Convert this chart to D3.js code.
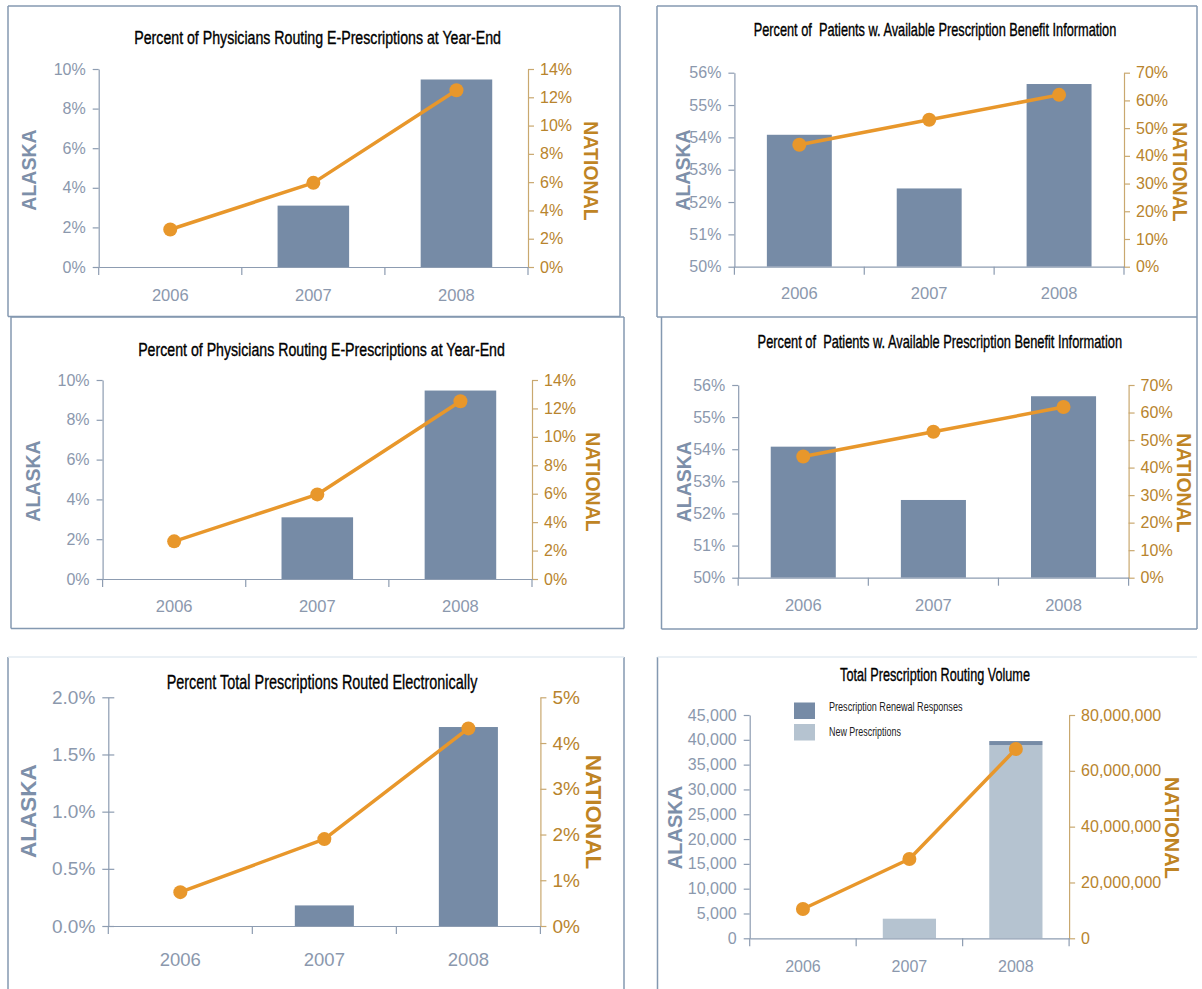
<!DOCTYPE html>
<html>
<head>
<meta charset="utf-8">
<script src="https://cdn.jsdelivr.net/npm/d3@7"></script>
<style>
  html, body { margin: 0; padding: 0; background: #ffffff; }
  svg { display: block; }
  text { font-family: "Liberation Sans", Arial, sans-serif; }
  .title { white-space: pre; }
</style>
</head>
<body>
<svg id="chart" width="1202" height="989"></svg>
<script>
// ---- data ----
const years = ["2006", "2007", "2008"];

// Percent of physicians routing e-prescriptions at year-end
const physiciansAlaska   = [0, 3.1, 9.47];
const physiciansNational = [2.65, 5.95, 12.5];
const physiciansLeftTicks  = [0, 2, 4, 6, 8, 10];
const physiciansRightTicks = [0, 2, 4, 6, 8, 10, 12, 14];

// Percent of patients with available prescription benefit information
const benefitAlaska   = [54.08, 52.42, 55.65];
const benefitNational = [44, 53, 62];
const benefitLeftTicks  = [50, 51, 52, 53, 54, 55, 56];
const benefitRightTicks = [0, 10, 20, 30, 40, 50, 60, 70];

// Percent of total prescriptions routed electronically
const routedAlaska   = [0, 0.18, 1.74];
const routedNational = [0.74, 1.9, 4.32];
const routedLeftTicks  = [0, 0.5, 1.0, 1.5, 2.0];
const routedRightTicks = [0, 1, 2, 3, 4, 5];

// Total prescription routing volume
const volumeNewPrescriptions = [0, 3950, 38950];
const volumeRenewalResponses = [0, 0, 800];
const volumeNational = [10500000, 28400000, 67800000];
const volumeLeftTicks  = [0, 5000, 10000, 15000, 20000, 25000, 30000, 35000, 40000, 45000];
const volumeRightTicks = [0, 20000000, 40000000, 60000000, 80000000];
const volumeLegend = ["Prescription Renewal Responses", "New Prescriptions"];

// ---- styling ----
const BAR = "#768ba6";
const BAR_LIGHT = "#b5c3d0";
const LINE = "#e8972b";
const LEFT_AXIS = "#8d9cb1";
const RIGHT_AXIS = "#c9a86f";
const LEFT_TEXT = "#8b98ad";
const RIGHT_TEXT = "#b8842d";
const ALASKA_TEXT = "#7d8fa9";
const NATIONAL_TEXT = "#bf8424";
const FRAME = "#8499b1";
const NARROW = "'Liberation Sans Narrow', 'Arial Narrow', 'Liberation Sans', sans-serif";

const pctInt = d => d + "%";
const pctOne = d => d3.format(".1f")(d) + "%";
const comma = d3.format(",");

const svg = d3.select("#chart");
svg.append("rect").attr("width", 1202).attr("height", 989).attr("fill", "#fff");

// Squeeze a text horizontally so it spans the given width, centred or left-aligned at (x, y).
function condensed(sel, x, y, width, anchor) {
  const natural = sel.node().getComputedTextLength();
  const k = natural > 0 ? width / natural : 1;
  sel.attr("x", 0).attr("y", 0)
    .attr("text-anchor", anchor)
    .attr("transform", `translate(${x},${y}) scale(${k},1)`);
  return sel;
}

// panel frames
const frames = [
  { x1: 8, y1: 6, x2: 620, y2: 316.5, sides: "tlrb" },
  { x1: 657, y1: 6, x2: 1197, y2: 317, sides: "tlrb" },
  { x1: 11, y1: 317, x2: 624, y2: 628.5, sides: "tlrb" },
  { x1: 661.5, y1: 317, x2: 1197, y2: 629, sides: "lrb" },
  { x1: 8, y1: 657, x2: 624, y2: 995, sides: "lr" },
  { x1: 657.5, y1: 657, x2: 1197, y2: 995, sides: "l" }
];
frames.forEach(f => {
  const g = svg.append("g").attr("fill", "none").attr("stroke", FRAME).attr("stroke-width", 1.5);
  if (f.sides.includes("t")) g.append("line").attr("x1", f.x1).attr("x2", f.x2).attr("y1", f.y1).attr("y2", f.y1);
  if (f.sides.includes("b")) g.append("line").attr("x1", f.x1).attr("x2", f.x2).attr("y1", f.y2).attr("y2", f.y2);
  if (f.sides.includes("l")) g.append("line").attr("x1", f.x1).attr("x2", f.x1).attr("y1", f.y1).attr("y2", f.y2);
  if (f.sides.includes("r")) g.append("line").attr("x1", f.x2).attr("x2", f.x2).attr("y1", f.y1).attr("y2", f.y2);
});
// faint top edges of the lower pair
svg.append("line").attr("x1", 8).attr("x2", 624).attr("y1", 657).attr("y2", 657).attr("stroke", "#e3ebf2").attr("stroke-width", 1.5);
svg.append("line").attr("x1", 657.5).attr("x2", 1197).attr("y1", 657).attr("y2", 657).attr("stroke", "#e3ebf2").attr("stroke-width", 1.5);

const panels = [
  {
    title: "Percent of Physicians Routing E-Prescriptions at Year-End",
    L: 98.7, R: 528, T: 69, B: 267, titleX: 317.6, titleY: 38, titleW: 367, titleSize: 17.5,
    alaskaX: 28.7, alaskaY: 170, nationalX: 591, nationalY: 171, catY: 295,
    labelSize: 16, catSize: 16.5, sideSize: 19.5, barFrac: 0.5, crossTicks: false,
    leftDomain: [0, 10], rightDomain: [0, 14], leftTicks: physiciansLeftTicks, rightTicks: physiciansRightTicks,
    leftFmt: pctInt, rightFmt: pctInt, bars: [physiciansAlaska], line: physiciansNational
  },
  {
    title: "Percent of  Patients w. Available Prescription Benefit Information",
    L: 734.4, R: 1124, T: 72.7, B: 266.7, titleX: 935, titleY: 30, titleW: 363, titleSize: 17.5,
    alaskaX: 682.5, alaskaY: 170, nationalX: 1179.7, nationalY: 172, catY: 293,
    labelSize: 16, catSize: 16.5, sideSize: 19.5, barFrac: 0.5, crossTicks: false,
    leftDomain: [50, 56], rightDomain: [0, 70], leftTicks: benefitLeftTicks, rightTicks: benefitRightTicks,
    leftFmt: pctInt, rightFmt: pctInt, bars: [benefitAlaska], line: benefitNational
  },
  {
    title: "Percent of Physicians Routing E-Prescriptions at Year-End",
    L: 102.6, R: 532, T: 380, B: 579, titleX: 321.5, titleY: 350, titleW: 367, titleSize: 17.5,
    alaskaX: 32.5, alaskaY: 481, nationalX: 593, nationalY: 482, catY: 606.7,
    labelSize: 16, catSize: 16.5, sideSize: 19.5, barFrac: 0.5, crossTicks: false,
    leftDomain: [0, 10], rightDomain: [0, 14], leftTicks: physiciansLeftTicks, rightTicks: physiciansRightTicks,
    leftFmt: pctInt, rightFmt: pctInt, bars: [physiciansAlaska], line: physiciansNational
  },
  {
    title: "Percent of  Patients w. Available Prescription Benefit Information",
    L: 738.2, R: 1128.6, T: 385, B: 577.7, titleX: 939.8, titleY: 341.7, titleW: 364.7, titleSize: 17.5,
    alaskaX: 683.7, alaskaY: 481.7, nationalX: 1183.5, nationalY: 483, catY: 605,
    labelSize: 16, catSize: 16.5, sideSize: 19.5, barFrac: 0.5, crossTicks: false,
    leftDomain: [50, 56], rightDomain: [0, 70], leftTicks: benefitLeftTicks, rightTicks: benefitRightTicks,
    leftFmt: pctInt, rightFmt: pctInt, bars: [benefitAlaska], line: benefitNational
  },
  {
    title: "Percent Total Prescriptions Routed Electronically",
    L: 108.3, R: 540.4, T: 697.3, B: 926, titleX: 322, titleY: 681.7, titleW: 311, titleSize: 21,
    alaskaX: 28.7, alaskaY: 811, nationalX: 593, nationalY: 812, catY: 960,
    labelSize: 19, catSize: 18.5, sideSize: 22.5, barFrac: 0.41, crossTicks: true,
    leftDomain: [0, 2], rightDomain: [0, 5], leftTicks: routedLeftTicks, rightTicks: routedRightTicks,
    leftFmt: pctOne, rightFmt: pctInt, bars: [routedAlaska], line: routedNational
  },
  {
    title: "Total Prescription Routing Volume",
    L: 749.7, R: 1069.1, T: 715, B: 938.3, titleX: 935, titleY: 675, titleW: 190, titleSize: 18,
    alaskaX: 674.9, alaskaY: 827.5, nationalX: 1172, nationalY: 828, catY: 966.7,
    labelSize: 16, catSize: 16, sideSize: 20, barFrac: 0.5, crossTicks: false,
    leftDomain: [0, 45000], rightDomain: [0, 80000000], leftTicks: volumeLeftTicks, rightTicks: volumeRightTicks,
    leftFmt: comma, rightFmt: comma,
    bars: [volumeNewPrescriptions, volumeRenewalResponses], barColors: [BAR_LIGHT, BAR],
    line: volumeNational, legend: volumeLegend
  }
];

panels.forEach(p => {
  const g = svg.append("g");
  const x = d3.scaleBand().domain(years).range([p.L, p.R]);
  const yL = d3.scaleLinear().domain(p.leftDomain).range([p.B, p.T]);
  const yR = d3.scaleLinear().domain(p.rightDomain).range([p.B, p.T]);

  // title (condensed type)
  const title = g.append("text")
    .attr("class", "title")
    .attr("xml:space", "preserve")
    .attr("dominant-baseline", "central")
    .attr("font-family", NARROW)
    .attr("font-size", p.titleSize).attr("fill", "#000")
    .attr("stroke", "#000").attr("stroke-width", 0.35)
    .text(p.title);
  condensed(title, p.titleX, p.titleY, p.titleW, "middle");

  // bars (stacked when several series are given)
  const colors = p.barColors || [BAR];
  const bw = x.bandwidth() * p.barFrac;
  const stacked = years.map((yr, i) => {
    let acc = 0;
    return p.bars.map((s, k) => {
      const seg = { year: yr, y0: acc, y1: acc + s[i], color: colors[k] };
      acc += s[i];
      return seg;
    });
  }).flat().filter(d => d.y1 > d.y0);
  g.append("g").selectAll("rect").data(stacked).join("rect")
    .attr("x", d => x(d.year) + (x.bandwidth() - bw) / 2)
    .attr("width", bw)
    .attr("y", d => yL(Math.max(d.y1, p.leftDomain[0])))
    .attr("height", d => yL(Math.max(d.y0, p.leftDomain[0])) - yL(Math.max(d.y1, p.leftDomain[0])))
    .attr("fill", d => d.color);

  // left axis
  const leftAxis = d3.axisLeft(yL).tickValues(p.leftTicks).tickFormat(p.leftFmt)
    .tickSizeInner(6).tickSizeOuter(0).tickPadding(7);
  const la = g.append("g").attr("transform", `translate(${p.L},0)`).call(leftAxis);
  la.select(".domain").attr("stroke", LEFT_AXIS).attr("stroke-width", 1.2);
  la.selectAll(".tick line").attr("stroke", LEFT_AXIS).attr("stroke-width", 1.2)
    .attr("x2", -6).attr("x1", p.crossTicks ? 6 : 0);
  la.selectAll(".tick text").attr("fill", LEFT_TEXT).attr("font-size", p.labelSize)
    .attr("font-family", "'Liberation Sans', Arial, sans-serif");

  // right axis
  const rightAxis = d3.axisRight(yR).tickValues(p.rightTicks).tickFormat(p.rightFmt)
    .tickSizeInner(6).tickSizeOuter(0).tickPadding(6);
  const ra = g.append("g").attr("transform", `translate(${p.R},0)`).call(rightAxis);
  ra.select(".domain").attr("stroke", RIGHT_AXIS).attr("stroke-width", 1.2);
  ra.selectAll(".tick line").attr("stroke", RIGHT_AXIS).attr("stroke-width", 1.2);
  ra.selectAll(".tick text").attr("fill", RIGHT_TEXT).attr("font-size", p.labelSize)
    .attr("font-family", "'Liberation Sans', Arial, sans-serif");

  // category axis: baseline, boundary ticks, year labels
  const bottomAxis = d3.axisBottom(x).tickSize(0).tickPadding(0);
  const ba = g.append("g").attr("transform", `translate(0,${p.B})`).call(bottomAxis);
  ba.select(".domain").attr("stroke", LEFT_AXIS).attr("stroke-width", 1.2);
  ba.selectAll(".tick text")
    .attr("y", p.catY - p.B).attr("dy", "0.35em")
    .attr("fill", LEFT_TEXT).attr("font-size", p.catSize)
    .attr("font-family", "'Liberation Sans', Arial, sans-serif");
  const bounds = years.map(d => x(d)).concat([x.range()[1]]);
  g.append("g").selectAll("line").data(bounds).join("line")
    .attr("x1", d => d).attr("x2", d => d)
    .attr("y1", p.B).attr("y2", p.B + 8)
    .attr("stroke", LEFT_AXIS).attr("stroke-width", 1.2);

  // national line
  const cx = d => x(d) + x.bandwidth() / 2;
  const pts = years.map((yr, i) => [cx(yr), yR(p.line[i])]);
  g.append("path").datum(pts)
    .attr("d", d3.line())
    .attr("fill", "none").attr("stroke", LINE).attr("stroke-width", 3.5)
    .attr("stroke-linejoin", "round");
  g.append("g").selectAll("circle").data(pts).join("circle")
    .attr("cx", d => d[0]).attr("cy", d => d[1]).attr("r", 7).attr("fill", LINE);

  // side labels
  g.append("text")
    .attr("transform", `translate(${p.alaskaX},${p.alaskaY}) rotate(-90)`)
    .attr("text-anchor", "middle").attr("dominant-baseline", "central")
    .attr("font-weight", "bold").attr("font-size", p.sideSize).attr("fill", ALASKA_TEXT)
    .text("ALASKA");
  g.append("text")
    .attr("transform", `translate(${p.nationalX},${p.nationalY}) rotate(90)`)
    .attr("text-anchor", "middle").attr("dominant-baseline", "central")
    .attr("font-weight", "bold").attr("font-size", p.sideSize).attr("fill", NATIONAL_TEXT)
    .text("NATIONAL");

  // legend
  if (p.legend) {
    const lg = g.append("g").attr("transform", "translate(794,702.5)");
    const legendColors = [BAR, BAR_LIGHT];
    const legendWidths = [133.6, 72];
    p.legend.forEach((name, i) => {
      lg.append("rect").attr("x", 0).attr("y", i * 21.5).attr("width", 21).attr("height", 16.5)
        .attr("fill", legendColors[i]);
      const t = lg.append("text")
        .attr("dominant-baseline", "central")
        .attr("font-family", NARROW)
        .attr("font-size", 12).attr("fill", "#222")
        .text(name);
      condensed(t, 35, i * 21.5 + (i ? 7.5 : 3.5), legendWidths[i], "start");
    });
  }
});
</script>
</body>
</html>
